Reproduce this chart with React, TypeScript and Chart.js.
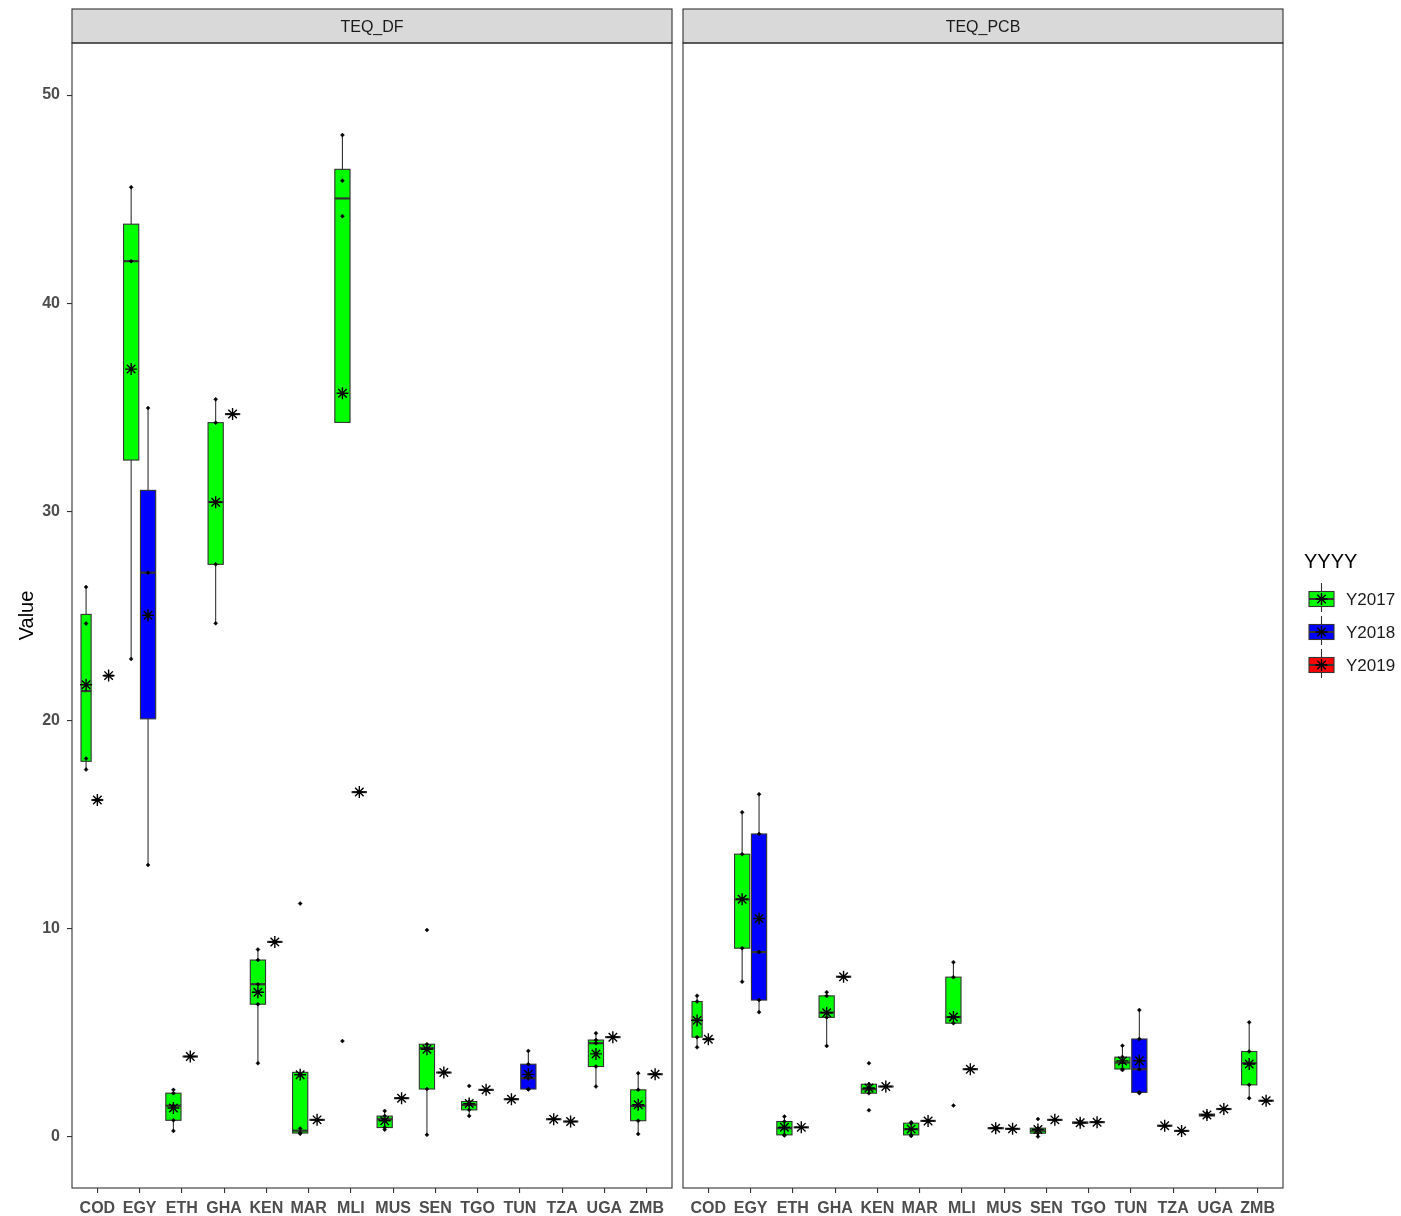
import React, { useEffect, useRef } from 'react';
import { Chart, registerables } from 'chart.js';

Chart.register(...registerables);

// ---------- data ----------
const categories = ['COD', 'EGY', 'ETH', 'GHA', 'KEN', 'MAR', 'MLI', 'MUS', 'SEN', 'TGO', 'TUN', 'TZA', 'UGA', 'ZMB'];
const facets = ['TEQ_DF', 'TEQ_PCB'];
const years = ['Y2017', 'Y2018', 'Y2019'];
const yearFills = ['#00FF00', '#0000FF', '#FF0000'];
const yTicks = [0, 10, 20, 30, 40, 50];

type G = number[] | null;

// raw observations per country (null = year absent)
const DF_Y2017: G[] = [
  [26.39, 24.64, 18.16, 17.63],
  [45.58, 42.03, 22.94],
  [2.26, 2.1, 1.5, 0.8, 0.29],
  [35.4, 34.28, 30.47, 27.48, 24.65],
  [9.0, 8.49, 7.33, 6.37, 3.54],
  [11.2, 0.4, 0.2, 0.15],
  [48.08, 45.89, 44.19, 4.6],
  [1.25, 1.0, 0.85, 0.45, 0.35],
  [9.93, 4.45, 4.26, 2.3, 0.1],
  [2.45, 1.7, 1.54, 1.3, 1.01],
  [1.81],
  [0.85],
  [4.98, 4.65, 4.5, 3.38, 2.42],
  [3.06, 2.26, 1.49, 0.78, 0.14],
];
const DF_Y2018: G[] = [
  [16.17],
  [34.98, 27.08, 13.05],
  null, null, null, null, null, null, null, null,
  [4.13, 3.49, 2.82, 2.3, 2.28],
  null, null, null,
];
const DF_Y2019: G[] = [
  [22.14],
  null,
  [3.86],
  [34.69],
  [9.36],
  [0.82],
  [16.55],
  [1.86],
  [3.09],
  [2.26],
  null,
  [0.74],
  [4.79],
  [3.01],
];
const PCB_Y2017: G[] = [
  [6.78, 6.5, 5.6, 4.79, 4.3],
  [15.58, 13.57, 11.4, 9.06, 7.45],
  [0.98, 0.74, 0.42, 0.1, 0.07],
  [6.95, 6.77, 5.97, 5.74, 4.37],
  [3.54, 2.53, 2.29, 2.1, 1.28],
  [0.7, 0.66, 0.37, 0.1, 0.05],
  [8.39, 7.67, 5.75, 5.46, 1.51],
  [0.46, 0.43, 0.41, 0.38],
  [0.86, 0.42, 0.3, 0.18, 0.02],
  [0.75, 0.7, 0.67, 0.62],
  [4.38, 3.83, 3.57, 3.26, 3.21],
  [0.54],
  [1.15, 1.08, 1.02, 0.97],
  [5.5, 4.1, 3.54, 2.5, 1.86],
];
const PCB_Y2018: G[] = [
  [4.69],
  [16.45, 14.54, 8.87, 6.57, 5.99],
  null, null, null, null, null, null, null, null,
  [6.09, 4.7, 3.25, 2.14, 2.1],
  null, null, null,
];
const PCB_Y2019: G[] = [
  [],
  null,
  [0.46],
  [7.69],
  [2.42],
  [0.77],
  [3.25],
  [0.39],
  [0.82],
  [0.71],
  null,
  [0.29],
  [1.34],
  [1.74],
];

// ---------- helpers ----------
const FONT = '"Liberation Sans", Arial, Helvetica, sans-serif';
const PANEL_SHIFT = 14.46; // x-offset of the second facet in scale units
const DODGE = 0.8;
const LINE = '#333333';

function quantile(s: number[], p: number) {
  const h = (s.length - 1) * p;
  const lo = Math.floor(h);
  const hi = Math.min(lo + 1, s.length - 1);
  return s[lo] + (h - lo) * (s[hi] - s[lo]);
}
function mean(v: number[]) {
  return v.reduce((a, b) => a + b, 0) / v.length;
}
function boxStats(vals: number[]) {
  const s = [...vals].sort((a, b) => a - b);
  const q1 = quantile(s, 0.25);
  const med = quantile(s, 0.5);
  const q3 = quantile(s, 0.75);
  const iqr = q3 - q1;
  const inside = s.filter((v) => v >= q1 - 1.5 * iqr && v <= q3 + 1.5 * iqr);
  return { q1, med, q3, lo: Math.min(...inside), hi: Math.max(...inside) };
}

interface Group { f: number; ci: number; yi: number; x: number; half: number; vals: number[] }

function buildGroups(): Group[] {
  const byFacet = [
    [DF_Y2017, DF_Y2018, DF_Y2019],
    [PCB_Y2017, PCB_Y2018, PCB_Y2019],
  ];
  const out: Group[] = [];
  byFacet.forEach((ys, f) => {
    categories.forEach((_, ci) => {
      const present = ys
        .map((arr, yi) => ({ yi, vals: arr[ci] }))
        .filter((g) => g.vals !== null) as { yi: number; vals: number[] }[];
      const n = present.length;
      present.forEach((g, k) => {
        const center = ci + 1 + f * PANEL_SHIFT;
        const slot = DODGE / n;
        out.push({ f, ci, yi: g.yi, x: center + (k - (n - 1) / 2) * slot, half: (slot * 0.9) / 2, vals: g.vals });
      });
    });
  });
  return out;
}

const groups = buildGroups();
const tickPositions = [
  ...categories.map((_, i) => i + 1),
  ...categories.map((_, i) => i + 1 + PANEL_SHIFT),
];

const boxPlugin = {
  id: 'boxes',
  beforeDatasetsDraw(chart: any) {
    const { ctx, chartArea, scales } = chart;
    const xs = scales.x;
    const ys = scales.y;
    ctx.save();
    ctx.beginPath();
    ctx.rect(chartArea.left, chartArea.top, chartArea.right - chartArea.left, chartArea.bottom - chartArea.top);
    ctx.clip();
    groups.forEach((g) => {
      if (!g.vals.length) return;
      const st = boxStats(g.vals);
      const px = xs.getPixelForValue(g.x);
      const hw = xs.getPixelForValue(g.x + g.half) - px;
      const yq1 = ys.getPixelForValue(st.q1);
      const yq3 = ys.getPixelForValue(st.q3);
      const ymed = ys.getPixelForValue(st.med);
      ctx.strokeStyle = LINE;
      ctx.lineWidth = 1.1;
      ctx.beginPath();
      ctx.moveTo(px, yq3);
      ctx.lineTo(px, ys.getPixelForValue(st.hi));
      ctx.moveTo(px, yq1);
      ctx.lineTo(px, ys.getPixelForValue(st.lo));
      ctx.stroke();
      ctx.fillStyle = yearFills[g.yi];
      ctx.fillRect(px - hw, yq3, hw * 2, yq1 - yq3);
      ctx.strokeRect(px - hw, yq3, hw * 2, yq1 - yq3);
      ctx.lineWidth = 2.2;
      ctx.beginPath();
      ctx.moveTo(px - hw, ymed);
      ctx.lineTo(px + hw, ymed);
      ctx.stroke();
    });
    ctx.restore();
  },
};

const decoPlugin = {
  id: 'deco',
  afterDraw(chart: any) {
    const { ctx, chartArea, scales } = chart;
    const xs = scales.x;
    ctx.save();
    // panels + strips
    facets.forEach((name, f) => {
      const l = xs.getPixelForValue(0.4 + f * PANEL_SHIFT);
      const r = xs.getPixelForValue(14.6 + f * PANEL_SHIFT);
      ctx.fillStyle = '#D9D9D9';
      ctx.fillRect(l, 9, r - l, chartArea.top - 9);
      ctx.strokeStyle = LINE;
      ctx.lineWidth = 1.1;
      ctx.strokeRect(l, 9, r - l, chartArea.top - 9);
      ctx.strokeRect(l, chartArea.top, r - l, chartArea.bottom - chartArea.top);
      ctx.fillStyle = '#1A1A1A';
      ctx.font = `16px ${FONT}`;
      ctx.textAlign = 'center';
      ctx.textBaseline = 'middle';
      ctx.fillText(name, (l + r) / 2, 27.5);
    });
    // y title
    ctx.save();
    ctx.translate(27, (chartArea.top + chartArea.bottom) / 2);
    ctx.rotate(-Math.PI / 2);
    ctx.fillStyle = '#000000';
    ctx.font = `20px ${FONT}`;
    ctx.textAlign = 'center';
    ctx.textBaseline = 'middle';
    ctx.fillText('Value', 0, 0);
    ctx.restore();
    // legend
    ctx.fillStyle = '#000000';
    ctx.font = `20px ${FONT}`;
    ctx.textAlign = 'left';
    ctx.textBaseline = 'middle';
    ctx.fillText('YYYY', 1304, 562);
    years.forEach((yr, i) => {
      const cy = 599 + 33 * i;
      const l = 1309;
      const w = 25;
      const cx = l + w / 2;
      ctx.strokeStyle = LINE;
      ctx.lineWidth = 1.1;
      ctx.beginPath();
      ctx.moveTo(cx, cy - 16);
      ctx.lineTo(cx, cy + 13);
      ctx.stroke();
      ctx.fillStyle = yearFills[i];
      ctx.fillRect(l, cy - 7.5, w, 15);
      ctx.strokeRect(l, cy - 7.5, w, 15);
      ctx.lineWidth = 2;
      ctx.beginPath();
      ctx.moveTo(l, cy);
      ctx.lineTo(l + w, cy);
      ctx.stroke();
      ctx.strokeStyle = '#000';
      ctx.lineWidth = 1.4;
      ctx.beginPath();
      const r = 6;
      for (let k = 0; k < 4; k++) {
        const a = (k * Math.PI) / 4;
        ctx.moveTo(cx - Math.sin(a) * r, cy - Math.cos(a) * r);
        ctx.lineTo(cx + Math.sin(a) * r, cy + Math.cos(a) * r);
      }
      ctx.stroke();
      ctx.fillStyle = '#1A1A1A';
      ctx.font = `17px ${FONT}`;
      ctx.fillText(yr, 1346, cy + 1);
    });
    ctx.restore();
  },
};

export default function App() {
  const ref = useRef<HTMLCanvasElement | null>(null);
  useEffect(() => {
    if (!ref.current) return;
    const pointData = groups.flatMap((g) => g.vals.map((v) => ({ x: g.x, y: v })));
    const meanData = groups.filter((g) => g.vals.length).map((g) => ({ x: g.x, y: mean(g.vals) }));
    const tickFont = { family: FONT, size: 16, weight: 'bold' as const };
    const chart = new Chart(ref.current, {
      type: 'scatter',
      data: {
        datasets: [
          {
            label: 'obs',
            data: pointData,
            pointStyle: 'rectRot',
            radius: 2,
            backgroundColor: '#000',
            borderColor: '#000',
            borderWidth: 0.5,
          },
          {
            label: 'mean',
            data: meanData,
            pointStyle: 'star',
            radius: 6,
            backgroundColor: '#000',
            borderColor: '#000',
            borderWidth: 1.4,
          },
        ],
      },
      options: {
        animation: false,
        responsive: false,
        layout: { padding: { top: 43, right: 118, bottom: 0, left: 0 } },
        plugins: { legend: { display: false }, tooltip: { enabled: false } },
        scales: {
          x: {
            type: 'linear',
            min: 0.4,
            max: 29.06,
            afterBuildTicks: (s: any) => {
              s.ticks = tickPositions.map((v) => ({ value: v }));
            },
            afterFit: (s: any) => {
              s.height = 28;
            },
            grid: { drawOnChartArea: false, drawTicks: true, tickLength: 5, color: LINE, lineWidth: 1.1 },
            border: { display: false },
            ticks: {
              autoSkip: false,
              maxRotation: 0,
              minRotation: 0,
              padding: 6,
              color: '#4D4D4D',
              font: tickFont,
              callback: (_v: any, i: number) => categories[i % categories.length],
            },
          },
          y: {
            type: 'linear',
            min: -2.45,
            max: 52.5,
            afterBuildTicks: (s: any) => {
              s.ticks = yTicks.map((v) => ({ value: v }));
            },
            afterFit: (s: any) => {
              s.width = 72;
            },
            grid: { drawOnChartArea: false, drawTicks: true, tickLength: 5, color: LINE, lineWidth: 1.1 },
            border: { display: false },
            ticks: { padding: 7, color: '#4D4D4D', font: tickFont },
          },
        },
      },
      plugins: [boxPlugin, decoPlugin],
    });
    return () => chart.destroy();
  }, []);
  return (
    <div style={{ position: 'absolute', left: 0, top: 0, width: 1401, height: 1216, background: '#fff' }}>
      <canvas ref={ref} width={1401} height={1216} style={{ display: 'block' }} />
    </div>
  );
}
